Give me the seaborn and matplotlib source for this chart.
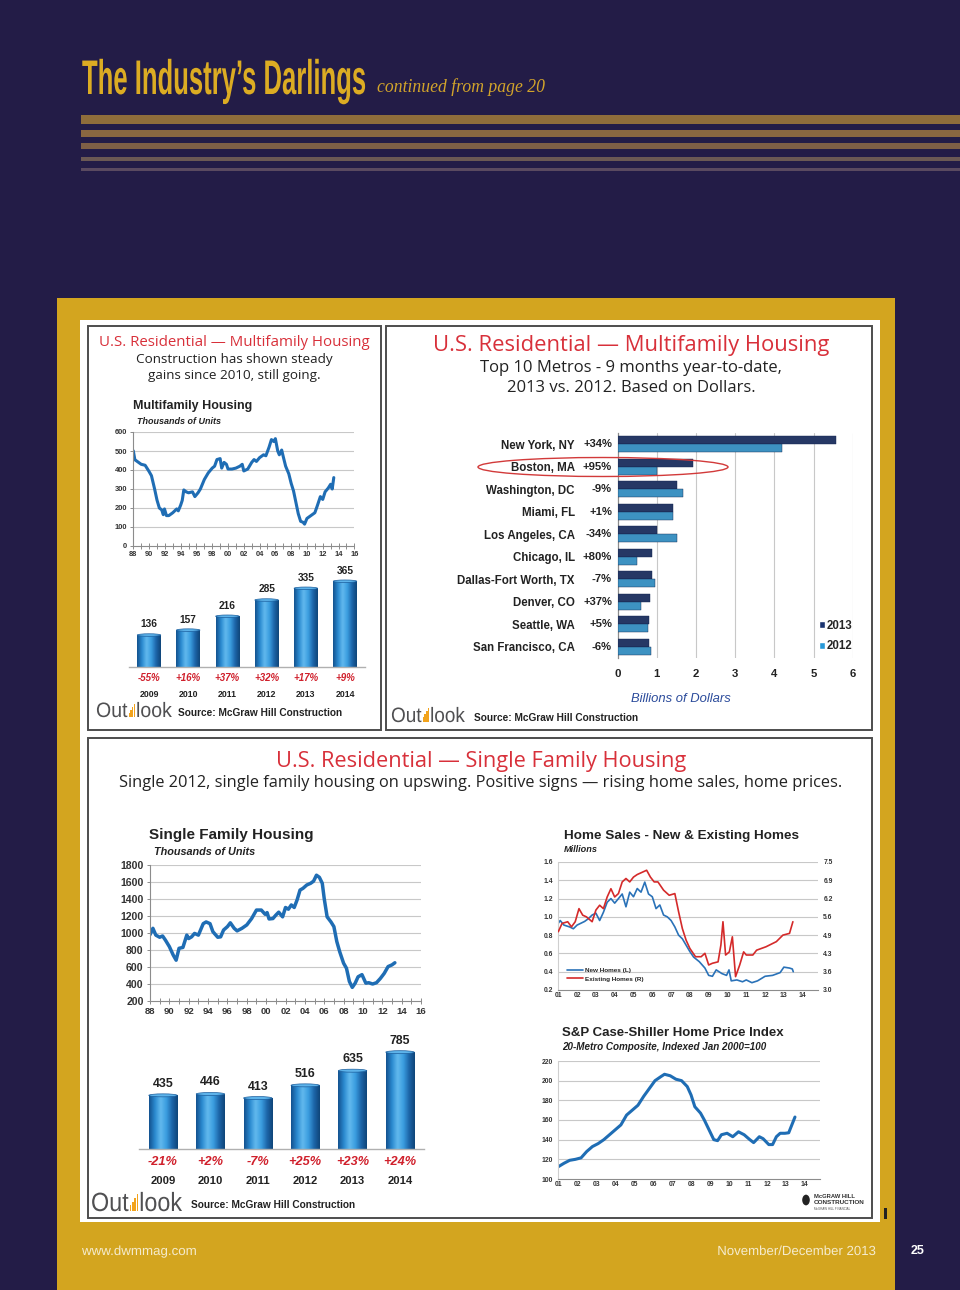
import numpy as np
import pandas as pd
import seaborn as sns
import matplotlib.pyplot as plt
import matplotlib.patheffects as pe
import matplotlib.transforms as mtrans
from matplotlib.patches import Rectangle, Ellipse, Circle
from matplotlib.colors import LinearSegmentedColormap
from matplotlib.lines import Line2D

# ---------------- data ----------------
# multifamily starts, thousands of units
mf_year = [1988.0, 1988.2, 1988.5, 1989.0, 1989.5, 1990.0, 1990.3, 1990.7, 1991.0, 1991.3,
           1991.6, 1991.8, 1991.95, 1992.2, 1992.5, 1993.0, 1993.5, 1993.7, 1994.0, 1994.2,
           1994.4, 1994.7, 1995.0, 1995.5, 1995.8, 1996.2, 1996.5, 1997.0, 1997.5, 1998.0,
           1998.3, 1998.6, 1999.0, 1999.2, 1999.5, 1999.8, 2000.0, 2000.5, 2001.0, 2001.5,
           2001.8, 2002.0, 2002.5, 2003.0, 2003.3, 2003.6, 2004.0, 2004.5, 2004.8, 2005.2,
           2005.5, 2005.8, 2006.0, 2006.3, 2006.5, 2006.8, 2007.0, 2007.3, 2007.7, 2008.0,
           2008.3, 2008.6, 2008.9, 2009.2, 2009.5, 2009.7, 2010.0, 2010.5, 2011.0, 2011.3,
           2011.7, 2012.0, 2012.3, 2012.7, 2013.0, 2013.2, 2013.4]
mf_units = [501, 454, 445, 430, 425, 392, 370, 300, 242, 200,
            190, 165, 195, 160, 160, 175, 195, 185, 215, 240,
            295, 285, 280, 285, 260, 280, 300, 350, 385, 410,
            420, 455, 460, 410, 440, 430, 405, 405, 410, 420,
            430, 395, 405, 440, 455, 445, 465, 480, 475, 520,
            560, 550, 565, 500, 480, 505, 470, 420, 380, 330,
            290, 230, 170, 130, 125, 115, 145, 160, 175, 210,
            260, 245, 285, 305, 325, 300, 360]

fc_years = ['2009', '2010', '2011', '2012', '2013', '2014']
mf_bar_units = [136, 157, 216, 285, 335, 365]
mf_bar_change = ['-55%', '+16%', '+37%', '+32%', '+17%', '+9%']

metros = ['New York, NY', 'Boston, MA', 'Washington, DC', 'Miami, FL', 'Los Angeles, CA',
          'Chicago, IL', 'Dallas-Fort Worth, TX', 'Denver, CO', 'Seattle, WA', 'San Francisco, CA']
metro_change = ['+34%', '+95%', '-9%', '+1%', '-34%', '+80%', '-7%', '+37%', '+5%', '-6%']
metro_2013 = [5.57, 1.93, 1.52, 1.42, 1.00, 0.88, 0.88, 0.83, 0.80, 0.81]
metro_2012 = [4.19, 1.00, 1.66, 1.40, 1.52, 0.49, 0.94, 0.60, 0.77, 0.85]

# single family starts, thousands of units
sf_year = [1988.0, 1988.3, 1988.6, 1989.0, 1989.3, 1989.6, 1990.0, 1990.4, 1990.7, 1991.0,
           1991.4, 1991.8, 1992.0, 1992.3, 1992.6, 1993.0, 1993.5, 1993.8, 1994.2, 1994.5,
           1995.0, 1995.3, 1995.6, 1996.0, 1996.3, 1996.7, 1997.0, 1997.5, 1998.0, 1998.5,
           1999.0, 1999.5, 1999.9, 2000.1, 2000.3, 2000.7, 2001.0, 2001.3, 2001.7, 2002.0,
           2002.3, 2002.6, 2002.9, 2003.2, 2003.5, 2003.8, 2004.2, 2004.6, 2004.9, 2005.2,
           2005.5, 2005.8, 2006.0, 2006.3, 2006.7, 2007.0, 2007.3, 2007.6, 2008.0, 2008.3,
           2008.6, 2008.9, 2009.2, 2009.5, 2009.9, 2010.3, 2010.6, 2011.0, 2011.4, 2011.8,
           2012.2, 2012.6, 2013.0, 2013.3]
sf_units = [980, 1055, 975, 950, 965, 915, 840, 740, 680, 820,
            830, 975, 935, 955, 995, 975, 1110, 1130, 1110, 1015,
            950, 955, 1035, 1075, 1120, 1055, 1025, 1055, 1095, 1170,
            1270, 1270, 1220, 1240, 1165, 1170, 1210, 1245, 1190, 1300,
            1280, 1330, 1300, 1390, 1505, 1525, 1565, 1585, 1610, 1680,
            1655, 1585, 1405, 1190, 1130, 1075, 900, 780, 645, 585,
            430, 360, 410, 485, 510, 410, 415, 400, 415, 465,
            525, 605, 625, 650]
sf_bar_units = [435, 446, 413, 516, 635, 785]
sf_bar_change = ['-21%', '+2%', '-7%', '+25%', '+23%', '+24%']

# home sales, millions
new_year = [2001.0, 2001.1, 2001.3, 2001.6, 2001.8, 2002.0, 2002.2, 2002.4, 2002.6, 2002.8,
            2003.0, 2003.2, 2003.4, 2003.6, 2003.8, 2004.0, 2004.2, 2004.4, 2004.6, 2004.8,
            2005.0, 2005.2, 2005.4, 2005.6, 2005.8, 2006.0, 2006.2, 2006.4, 2006.6, 2006.8,
            2007.0, 2007.2, 2007.4, 2007.6, 2007.8, 2008.0, 2008.2, 2008.5, 2008.8, 2009.0,
            2009.2, 2009.4, 2009.7, 2009.95, 2010.08, 2010.2, 2010.5, 2010.8, 2011.0, 2011.3,
            2011.6, 2012.0, 2012.4, 2012.8, 2013.0, 2013.3, 2013.45, 2013.5]
new_homes = [0.93, 0.96, 0.91, 0.89, 0.87, 0.91, 0.93, 0.95, 0.98, 1.02,
             1.04, 0.96, 1.05, 1.16, 1.20, 1.15, 1.20, 1.25, 1.11, 1.27,
             1.22, 1.31, 1.27, 1.38, 1.25, 1.22, 1.09, 1.13, 1.02, 1.00,
             0.96, 0.89, 0.80, 0.76, 0.69, 0.62, 0.56, 0.51, 0.44, 0.36,
             0.35, 0.42, 0.38, 0.36, 0.42, 0.30, 0.31, 0.29, 0.31, 0.28,
             0.30, 0.35, 0.36, 0.39, 0.45, 0.44, 0.43, 0.40]
ex_year = [2001.0, 2001.2, 2001.5, 2001.7, 2001.9, 2002.1, 2002.3, 2002.5, 2002.8, 2003.0,
           2003.2, 2003.4, 2003.6, 2003.8, 2004.0, 2004.2, 2004.4, 2004.6, 2004.8, 2005.0,
           2005.2, 2005.5, 2005.7, 2005.9, 2006.1, 2006.3, 2006.6, 2006.9, 2007.2, 2007.4,
           2007.6, 2007.8, 2008.0, 2008.3, 2008.6, 2008.8, 2009.0, 2009.2, 2009.5, 2009.65,
           2009.76, 2009.9, 2010.1, 2010.26, 2010.43, 2010.65, 2010.86, 2011.0, 2011.35, 2011.55,
           2012.05, 2012.6, 2012.95, 2013.3, 2013.48]
existing_homes = [5.05, 5.34, 5.40, 5.22, 5.40, 5.86, 5.63, 5.57, 5.40, 5.81,
                  5.98, 5.86, 6.27, 6.56, 6.27, 6.39, 6.80, 6.92, 6.80, 6.97,
                  7.06, 7.15, 7.21, 6.97, 6.80, 6.80, 6.51, 6.33, 6.39, 5.75,
                  5.16, 4.75, 4.46, 4.17, 4.17, 4.29, 3.88, 3.94, 3.99, 4.58,
                  5.40, 4.23, 4.34, 4.87, 3.47, 3.88, 4.34, 4.23, 4.23, 4.40,
                  4.52, 4.70, 4.93, 4.99, 5.40]

# S&P Case-Shiller 20-metro composite
cs_year = [2001.0, 2001.3, 2001.6, 2001.9, 2002.2, 2002.5, 2002.8, 2003.1, 2003.4, 2003.7,
           2004.0, 2004.3, 2004.6, 2004.9, 2005.2, 2005.5, 2005.8, 2006.1, 2006.4, 2006.6,
           2006.9, 2007.2, 2007.5, 2007.8, 2008.0, 2008.2, 2008.5, 2008.7, 2009.0, 2009.2,
           2009.4, 2009.6, 2009.9, 2010.2, 2010.5, 2010.8, 2011.1, 2011.3, 2011.6, 2011.8,
           2012.1, 2012.3, 2012.5, 2012.7, 2012.95, 2013.15, 2013.48]
cs_index = [112.5, 116, 119, 120, 121.5, 128, 133, 136, 140, 145,
            150, 155, 165, 170, 175, 184, 192, 200, 204, 206.5,
            205, 201.5, 200, 194, 185.5, 173.5, 167, 160, 148, 140,
            139, 145, 146.5, 143, 148, 145, 140, 137, 143, 141,
            135, 135, 143, 146.5, 146.5, 147, 163]

# ---------------- style ----------------
sns.set_theme(style='white')
plt.rcParams['font.family'] = ['Liberation Sans', 'DejaVu Sans']
plt.rcParams['axes.unicode_minus'] = False

W, H = 960, 1290
NAVY = '#231c47'
GOLD = '#d3a51f'
BLUE = '#1f6db4'
RED = '#d8303a'
GRID = '#c8c8c8'
AXC = '#8c8c8c'
TXT = '#222222'
HUMAN = ['Open Sans', 'DejaVu Sans']

fig = plt.figure(figsize=(W / 100, H / 100), dpi=100, facecolor=NAVY)
renderer = fig.canvas.get_renderer()


class Stretch(pe.AbstractPathEffect):
    # scales glyphs about a pixel point (x0 from left, y0 from bottom)
    def __init__(self, sx, sy, x0, y0):
        super().__init__()
        self.tr = mtrans.Affine2D().translate(-x0, -y0).scale(sx, sy).translate(x0, y0)

    def draw_path(self, renderer, gc, tpath, affine, rgbFace=None):
        renderer.draw_path(gc, tpath, affine + self.tr, rgbFace)


def box(x0, y0, x1, y1):
    return [x0 / W, 1 - y1 / H, (x1 - x0) / W, (y1 - y0) / H]


def rect(x0, y0, x1, y1, **kw):
    kw.setdefault('zorder', -5)
    kw.setdefault('lw', 0)
    fig.patches.append(Rectangle((x0 / W, 1 - y1 / H), (x1 - x0) / W, (y1 - y0) / H,
                                 transform=fig.transFigure, **kw))


def ftext(x, y, s, **kw):
    kw.setdefault('va', 'center')
    kw.setdefault('color', TXT)
    return fig.text(x / W, 1 - y / H, s, **kw)


def fit_text(x, y, s, width, size, **kw):
    # shrink the font so the text has the wanted width, then stretch it back up vertically
    t = ftext(x, y, s, fontsize=size, **kw)
    w = t.get_window_extent(renderer).width
    new = size * width / w
    t.set_fontsize(new)
    t.set_path_effects([Stretch(1, size / new, x, H - y)])
    return t


def outlook(x, yb, size, width):
    t1 = ftext(x, yb, 'Out', ha='left', va='baseline', fontsize=size, color='#505052')
    w1 = t1.get_window_extent(renderer).width
    t2 = ftext(x, yb, 'look', ha='left', va='baseline', fontsize=size, color='#505052')
    w2 = t2.get_window_extent(renderer).width
    cap = size * 100 / 72 * 0.72
    bw = cap * 0.55
    k = (width - bw) / (w1 + w2)
    for t in (t1, t2):
        t.set_fontsize(size * k)
        t.set_path_effects([Stretch(1, 1 / k, x, H - yb)])
    bx = x + w1 * k
    t2.set_position(((bx + bw) / W, 1 - yb / H))
    step = bw / 4.4
    for i, h in enumerate([0.3, 0.5, 0.7, 0.9]):
        x0 = bx + step * (0.4 + i)
        rect(x0, yb - cap * h, x0 + step * 0.65, yb, facecolor='#f2a31c', zorder=5)


# ---------------- page background ----------------
rect(57, 298, 895, 1290, facecolor=GOLD, zorder=-8)
rect(80, 320, 880, 1222, facecolor='white', zorder=-7)
for (ya, yb_, c) in [(115, 124, '#8f6d3b'), (130, 137, '#8a6741'), (143, 149, '#7e5f46'),
                     (157, 161, '#6b5954'), (168, 171, '#5a4a60')]:
    rect(81, ya, 960, yb_, facecolor=c, zorder=-8)
for (a, b, c, d) in [(88, 326, 381, 730), (386, 326, 872, 730), (88, 738, 872, 1218)]:
    rect(a, b, c, d, facecolor='white', edgecolor='#4d4d4d', lw=1.4, zorder=-6)
rect(884, 1208, 886.5, 1219, facecolor='#222222', zorder=-5)

fit_text(82, 94, 'The Industry\u2019s Darlings', 284, 35, ha='left', va='baseline',
         fontweight='bold', color='#dcac23')
ftext(377, 92, 'continued from page 20', ha='left', va='baseline', fontsize=12.7,
      fontstyle='italic', color='#d2a42b', family=['Liberation Serif', 'DejaVu Serif'])

fit_text(82, 1255, 'www.dwmmag.com', 115, 9.5, ha='left', va='baseline', color='#f5ebcd')
fit_text(876, 1255, 'November/December 2013', 159, 9.5, ha='right', va='baseline',
         color='#f5ebcd')
ftext(918, 1251, '25', ha='center', fontsize=9, fontweight='bold', color='white')

# ---------------- panel titles ----------------
ftext(234, 342, 'U.S. Residential \u2014 Multifamily Housing', ha='center', fontsize=10.8,
      color=RED, family=HUMAN)
ftext(234, 359, 'Construction has shown steady', ha='center', fontsize=9.7, family=HUMAN)
ftext(234, 376, 'gains since 2010, still going.', ha='center', fontsize=9.7, family=HUMAN)

ftext(631, 346, 'U.S. Residential \u2014 Multifamily Housing', ha='center', fontsize=15.8,
      color=RED, family=HUMAN)
ftext(631, 368, 'Top 10 Metros - 9 months year-to-date,', ha='center', fontsize=12, family=HUMAN)
ftext(631, 388, '2013 vs. 2012. Based on Dollars.', ha='center', fontsize=12, family=HUMAN)

ftext(481, 761, 'U.S. Residential \u2014 Single Family Housing', ha='center', fontsize=15.7,
      color=RED, family=HUMAN)
ftext(481, 783, 'Single 2012, single family housing on upswing. Positive signs \u2014 '
      'rising home sales, home prices.', ha='center', fontsize=11.8, family=HUMAN)

# chart titles
ftext(133, 406, 'Multifamily Housing', ha='left', fontsize=9, fontweight='bold')
ftext(137, 421, 'Thousands of Units', ha='left', fontsize=6.5, fontweight='bold', fontstyle='italic')
ftext(149, 835, 'Single Family Housing', ha='left', fontsize=11, fontweight='bold')
ftext(154, 852, 'Thousands of Units', ha='left', fontsize=7.8, fontweight='bold', fontstyle='italic')
ftext(564, 836, 'Home Sales - New & Existing Homes', ha='left', fontsize=9.7, fontweight='bold')
ftext(564, 849, 'Millions', ha='left', fontsize=6.6, fontweight='bold', fontstyle='italic')
ftext(562, 1033, 'S&P Case-Shiller Home Price Index', ha='left', fontsize=9.5, fontweight='bold')
ftext(562, 1047, '20-Metro Composite, Indexed Jan 2000=100', ha='left', fontsize=7.1,
      fontweight='bold', fontstyle='italic')

# sources and logos
for (x, y) in [(178, 713), (474, 718), (191, 1205)]:
    ftext(x, y, 'Source: McGraw Hill Construction', ha='left', fontsize=7.3, fontweight='bold')
outlook(96, 717, 15, 76)
outlook(391, 722, 15, 74)
outlook(91, 1211, 19, 91)
fig.patches.append(Circle((806 / W, 1 - 1200 / H), 4.5 / W, transform=fig.transFigure,
                          facecolor='#222222', zorder=2))
ftext(814, 1196, 'McGRAW HILL', ha='left', fontsize=4.2, fontweight='bold', color='#333333')
ftext(814, 1203, 'CONSTRUCTION', ha='left', fontsize=4.6, fontweight='bold', color='#333333')
ftext(814, 1209, 'McGRAW HILL FINANCIAL', ha='left', fontsize=2.2, color='#555555')


# ---------------- helpers for charts ----------------
def style_line_axes(ax, xlim, xticks, xlabels, ylim, yticks, ylabels, fs, xfs=None, xtick_len=4):
    ax.set_facecolor('none')
    ax.set(xlabel='', ylabel='')
    ax.set_xlim(xlim)
    ax.set_ylim(ylim)
    ax.set_xticks(xticks)
    ax.set_xticklabels(xlabels, fontsize=xfs or fs, fontweight='bold', color='#333333')
    ax.set_yticks(yticks)
    ax.set_yticklabels(ylabels, fontsize=fs, fontweight='bold', color='#333333')
    ax.grid(False)
    for v in yticks[1:]:
        ax.axhline(v, color=GRID, lw=0.8, zorder=0)
    for s in ['top', 'right']:
        ax.spines[s].set_visible(False)
    for s in ['left', 'bottom']:
        ax.spines[s].set_color(AXC)
        ax.spines[s].set_linewidth(0.8)
    ax.tick_params(axis='x', direction='inout', length=xtick_len, width=0.7, color=AXC,
                   pad=1.5, bottom=True)
    ax.tick_params(axis='y', direction='out', length=2, width=0.7, color=AXC, pad=2.5, left=True)


bar_cmap = LinearSegmentedColormap.from_list(
    'cyl', ['#13528f', '#2a89cf', '#62b9ee', '#3b9ee0', '#1d66aa', '#0f4579'])
grad = np.linspace(0, 1, 64).reshape(1, -1)


def cylinder_bars(ax, cap_px):
    xl, yl = ax.get_xlim(), ax.get_ylim()
    bb = ax.get_window_extent(renderer)
    cap = cap_px / bb.height * (yl[1] - yl[0])
    for p in list(ax.patches):
        x, w, h = p.get_x(), p.get_width(), p.get_height()
        im = ax.imshow(grad, extent=[x, x + w, 0, h], aspect='auto', cmap=bar_cmap,
                       zorder=2, interpolation='bicubic')
        im.set_clip_path(p)
        ax.add_patch(Ellipse((x + w / 2, h), w, cap, facecolor='#5db3ea',
                             edgecolor='#1b5d9c', lw=0.5, zorder=3))
    ax.set_xlim(xl)
    ax.set_ylim(yl)


def forecast_bars(r, values, changes, ymax, fs_val, fs_pct, fs_year, pct_off, year_off, cap_px):
    ax = fig.add_axes(box(*r))
    ax.set_facecolor('none')
    df = pd.DataFrame({'year': fc_years, 'units': values})
    sns.barplot(data=df, x='year', y='units', color='#2a89cf', width=0.6, ax=ax,
                errorbar=None, zorder=2)
    ax.set(xlabel='', ylabel='')
    ax.set_xlim(-0.5, 5.5)
    ax.set_ylim(0, ymax)
    ax.bar_label(ax.containers[0], labels=[str(v) for v in values], padding=4,
                 fontsize=fs_val, fontweight='bold', color=TXT)
    cylinder_bars(ax, cap_px)
    ax.set_xticks([])
    ax.set_yticks([])
    for s in ['top', 'right', 'left']:
        ax.spines[s].set_visible(False)
    ax.spines['bottom'].set_color('#b0b0b0')
    ax.spines['bottom'].set_linewidth(1)
    for i, (c, yr) in enumerate(zip(changes, fc_years)):
        ax.annotate(c, (i, 0), xytext=(0, -pct_off), textcoords='offset points', ha='center',
                    va='center', fontsize=fs_pct, fontweight='bold', fontstyle='italic',
                    color='#d0202c')
        ax.annotate(yr, (i, 0), xytext=(0, -year_off), textcoords='offset points', ha='center',
                    va='center', fontsize=fs_year, fontweight='bold', color=TXT)
    return ax


# ---------------- multifamily line ----------------
ax = fig.add_axes(box(133.3, 432, 354.3, 546))
sns.lineplot(x=mf_year, y=mf_units, ax=ax, color=BLUE, linewidth=2.2)
yrs = list(range(1988, 2017))
style_line_axes(ax, (1988, 2016), yrs, [f'{y % 100:02d}' if y % 2 == 0 else '' for y in yrs],
                (0, 600), list(range(0, 601, 100)), [str(v) for v in range(0, 601, 100)], 5.4)

forecast_bars((129.4, 573, 364.6, 667), mf_bar_units, mf_bar_change, 400,
              7.3, 7.0, 6.3, 8, 19.5, 2.5)

# ---------------- metros ----------------
ax = fig.add_axes(box(617.7, 433, 852.7, 658))
ax.set_facecolor('none')
df_metro = pd.DataFrame({'metro': metros * 2,
                         'value': metro_2013 + metro_2012,
                         'year': ['2013'] * len(metros) + ['2012'] * len(metros)})
sns.barplot(data=df_metro, y='metro', x='value', hue='year', hue_order=['2013', '2012'],
            palette=['#1b3470', '#2798d8'], orient='h', width=0.72, errorbar=None,
            ax=ax, legend=False, zorder=3, edgecolor='#12244d', linewidth=0.3)
ax.set(xlabel='', ylabel='')
ax.set_xlim(0, 6)
ax.set_ylim(len(metros) - 0.5, -0.5)
ax.set_xticks(range(7))
ax.set_xticklabels([str(v) for v in range(7)], fontsize=8.2, fontweight='bold', color=TXT)
ax.set_yticks(range(len(metros)))
ax.set_yticklabels(metros, fontsize=8.3, fontweight='bold', color=TXT)
ax.tick_params(axis='y', length=0, pad=31)
ax.tick_params(axis='x', length=0, pad=8)
ax.grid(False)
for v in range(1, 7):
    ax.axvline(v, color=GRID, lw=0.8, zorder=0)
for s in ['top', 'right', 'bottom']:
    ax.spines[s].set_visible(False)
ax.spines['left'].set_color(AXC)
ax.spines['left'].set_linewidth(0.9)
tr = mtrans.blended_transform_factory(fig.transFigure, ax.transData)
for i, c in enumerate(metro_change):
    ax.text(612 / W, i, c, transform=tr, ha='right', va='center', fontsize=8.1,
            fontweight='bold', color=TXT)
handles = [Rectangle((0, 0), 1, 1, facecolor='#1b3470'), Rectangle((0, 0), 1, 1, facecolor='#2798d8')]
ax.legend(handles, ['2013', '2012'], loc='lower right', bbox_to_anchor=(1.0, 0.025),
          frameon=False, handlelength=0.55, handleheight=0.55, handletextpad=0.15,
          labelspacing=0.75, borderpad=0, borderaxespad=0,
          prop={'weight': 'bold', 'size': 8.3})
ftext(681, 699, 'Billions of Dollars', ha='center', fontsize=9.4, fontstyle='italic', color='#2b4b9b')
fig.patches.append(Ellipse((603 / W, 1 - 467 / H), 250 / W, 19 / H, transform=fig.transFigure,
                           facecolor='none', edgecolor='#d23a3a', lw=1.0, zorder=4))

# ---------------- single family ----------------
ax = fig.add_axes(box(150, 865, 421, 1001))
sns.lineplot(x=sf_year, y=sf_units, ax=ax, color=BLUE, linewidth=2.5)
style_line_axes(ax, (1988, 2016), yrs, [f'{y % 100:02d}' if y % 2 == 0 else '' for y in yrs],
                (200, 1800), list(range(200, 1801, 200)), [str(v) for v in range(200, 1801, 200)],
                7.6, xfs=6.8, xtick_len=5)

forecast_bars((139.3, 1038, 423.7, 1149), sf_bar_units, sf_bar_change, 900,
              8.9, 9.2, 8.1, 9.5, 23, 3)

# ---------------- home sales ----------------
ax = fig.add_axes(box(558.3, 862, 817.7, 990))
sns.lineplot(x=new_year, y=new_homes, ax=ax, color='#2a72b8', linewidth=1.2)
hs_years = list(range(2001, 2015))
left_ticks = [round(0.2 + 0.2 * i, 1) for i in range(8)]
style_line_axes(ax, (2001, 2014.8), hs_years, [f'{y % 100:02d}' for y in hs_years],
                (0.2, 1.6), left_ticks, [f'{v:.1f}' for v in left_ticks], 4.9, xtick_len=0)
ax.tick_params(axis='y', length=0, pad=4)
ax.spines['left'].set_color('#cfcfcf')
ax2 = ax.twinx()
sns.lineplot(x=ex_year, y=existing_homes, ax=ax2, color='#d42a2a', linewidth=1.2)
right_ticks = list(np.linspace(3.0, 7.5, 8))
ax2.set(xlabel='', ylabel='')
ax2.set_ylim(3.0, 7.5)
ax2.set_yticks(right_ticks)
ax2.set_yticklabels([f'{v:.1f}' for v in right_ticks], fontsize=4.9, fontweight='bold',
                    color='#333333')
ax2.tick_params(axis='y', length=0, pad=4, right=True)
ax2.grid(False)
for s in ax2.spines.values():
    s.set_visible(False)
ax2.set_xlim(2001, 2014.8)
ax.legend([Line2D([], [], color='#2a72b8', lw=1.2), Line2D([], [], color='#d42a2a', lw=1.2)],
          ['New Homes (L)', 'Existing Homes (R)'], loc='lower left', bbox_to_anchor=(0.01, 0.02),
          frameon=False, handlelength=2.6, handletextpad=0.3, labelspacing=0.5,
          prop={'weight': 'bold', 'size': 4.6})

# ---------------- case-shiller ----------------
ax = fig.add_axes(box(558.3, 1061, 820, 1179))
sns.lineplot(x=cs_year, y=cs_index, ax=ax, color=BLUE, linewidth=2.2)
cs_ticks = list(range(100, 221, 20))
style_line_axes(ax, (2001, 2014.8), hs_years, [f'{y % 100:02d}' for y in hs_years],
                (100, 220), cs_ticks, [str(v) for v in cs_ticks], 4.9, xtick_len=0)
ax.tick_params(axis='y', length=0, pad=4)
ax.spines['left'].set_color('#cfcfcf')

fig.savefig('out.png', dpi=100, facecolor=NAVY)
